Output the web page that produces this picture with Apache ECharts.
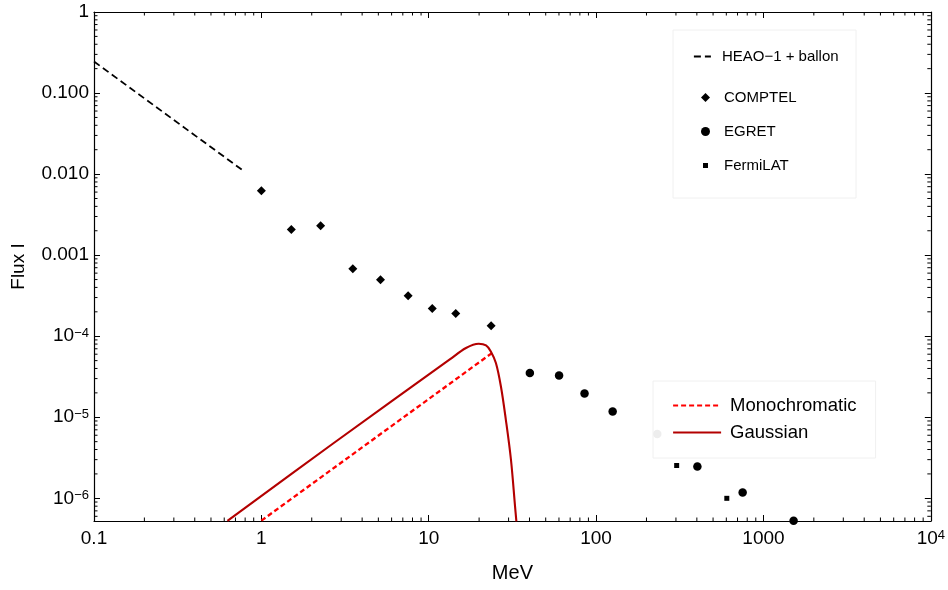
<!DOCTYPE html>
<html><head><meta charset="utf-8">
<script src="https://cdn.jsdelivr.net/npm/echarts@6/dist/echarts.min.js"></script>
<style>html,body{margin:0;padding:0;background:#fff}#c{width:948px;height:590px}</style>
</head><body><div id="c"></div>
<script>
// ---- axis ranges & tick labels ----
const X_MIN = 0.1, X_MAX = 10000, Y_MIN = 5.25e-7, Y_MAX = 1;
const xTickValues = [0.1, 1, 10, 100, 1000, 10000];
const xTickLabels = ['0.1', '1', '10', '100', '1000', '{b|10}{s|4}'];
const yTickValues = [1, 0.1, 0.01, 0.001, 1e-4, 1e-5, 1e-6];
const yTickLabels = ['1', '0.100', '0.010', '0.001', '{b|10}{s|\u22124}', '{b|10}{s|\u22125}', '{b|10}{s|\u22126}'];

// ---- data ----
const heaoX = [0.1, 0.794];
const heaoY = [0.245, 0.0107];

const comptelX = [1.0, 1.51, 2.26, 3.52, 5.15, 7.53, 10.5, 14.5, 23.6];
const comptelY = [6.25e-3, 2.07e-3, 2.31e-3, 6.8e-4, 4.99e-4, 3.16e-4, 2.19e-4, 1.90e-4, 1.35e-4];

const egretX = [40.2, 60.1, 85.3, 125.6, 232, 403, 751, 1514];
const egretY = [3.51e-5, 3.28e-5, 1.97e-5, 1.18e-5, 6.2e-6, 2.47e-6, 1.18e-6, 5.3e-7];

const fermiX = [303, 604];
const fermiY = [2.54e-6, 1.0e-6];

const monoX = [1.0, 24.6];
const monoY = [5.3e-7, 6.49e-5];

const gaussX = [0.627, 2.67, 13.3, 16.7, 19.9, 22.0, 23.5, 25.2, 27.0, 28.9, 31.0, 32.8, 33.4];
const gaussY = [5.27e-7, 4.71e-6, 5.13e-5, 7.15e-5, 8.07e-5, 7.69e-5, 6.49e-5, 4.67e-5, 2.40e-5, 9.3e-6, 2.99e-6, 7.9e-7, 5.2e-7];

const HEAO = 'HEAO\u22121 + ballon';

// ---- helpers ----
const zip = (xs, ys) => xs.map((x, i) => [x, ys[i]]);
function labelFor(values, labels) {
  return function (v) {
    const e = Math.log10(v);
    for (let i = 0; i < values.length; i++) {
      if (Math.abs(e - Math.log10(values[i])) < 1e-6) return labels[i];
    }
    return '';
  };
}
// log minor tick positions (2..9 times each decade)
const xMinor = [], yMinor = [];
for (let d = -1; d < 4; d++) for (let m = 2; m <= 9; m++) xMinor.push(m * Math.pow(10, d));
for (let d = -7; d < 0; d++) for (let m = 2; m <= 9; m++) {
  const v = m * Math.pow(10, d);
  if (v > Y_MIN && v < Y_MAX) yMinor.push(v);
}
const MINOR = 3.5;

const FONT = 'Liberation Sans';
const rich = {
  b: { fontSize: 19, lineHeight: 19, color: '#000', fontFamily: FONT, verticalAlign: 'bottom' },
  s: { fontSize: 13, lineHeight: 13, color: '#000', fontFamily: FONT, verticalAlign: 'top', padding: [0, 0, 9, 0] }
};
const axisCommon = {
  type: 'log', logBase: 10,
  axisLine: { show: true, lineStyle: { color: '#000', width: 1.2 } },
  axisTick: { show: true, inside: true, length: 6, lineStyle: { color: '#000', width: 1 } },
  minorTick: { show: false },
  splitLine: { show: false }
};
const legendText = { fontSize: 15, color: '#000', fontFamily: FONT };

const chart = echarts.init(document.getElementById('c'), null, { renderer: 'canvas' });
chart.setOption({
  animation: false,
  backgroundColor: '#fff',
  textStyle: { fontFamily: FONT },
  grid: { left: 94, right: 15, top: 12, bottom: 69, containLabel: false },
  xAxis: [
    Object.assign({}, axisCommon, {
      min: X_MIN, max: X_MAX, position: 'bottom',
      name: 'MeV', nameLocation: 'middle', nameGap: 42,
      nameTextStyle: { fontSize: 20, color: '#000', fontFamily: FONT },
      axisLabel: { show: true, margin: 8, fontSize: 19, color: '#000', fontFamily: FONT,
        formatter: labelFor(xTickValues, xTickLabels), rich: rich }
    }),
    Object.assign({}, axisCommon, {
      min: X_MIN, max: X_MAX, position: 'top', axisLabel: { show: false }
    })
  ],
  yAxis: [
    Object.assign({}, axisCommon, {
      min: Y_MIN, max: Y_MAX, position: 'left',
      name: 'Flux I', nameLocation: 'middle', nameGap: 66,
      nameTextStyle: { fontSize: 19, color: '#000', fontFamily: FONT },
      axisLabel: { show: true, margin: 5, fontSize: 19, color: '#000', fontFamily: FONT,
        formatter: labelFor(yTickValues, yTickLabels), rich: rich }
    }),
    Object.assign({}, axisCommon, {
      min: Y_MIN, max: Y_MAX, position: 'right', axisLabel: { show: false }
    })
  ],
  graphic: [{
    type: 'rect', z: 0, silent: true,
    shape: { x: 673, y: 30, width: 183, height: 168 },
    style: { fill: '#fff', stroke: '#f0f0f0', lineWidth: 1 }
  }],
  legend: [
    { data: [HEAO], left: 693, top: 49, padding: 0, itemWidth: 17, itemHeight: 14,
      itemStyle: { opacity: 0 }, lineStyle: { width: 1.8 },
      textStyle: Object.assign({ padding: [0, 0, 0, 6] }, legendText) },
    { data: ['COMPTEL'], left: 701, top: 90, padding: 0, itemWidth: 9, itemHeight: 9,
      textStyle: Object.assign({ padding: [0, 0, 0, 9] }, legendText) },
    { data: ['EGRET'], left: 701, top: 124, padding: 0, itemWidth: 9, itemHeight: 9,
      textStyle: Object.assign({ padding: [0, 0, 0, 9] }, legendText) },
    { data: ['FermiLAT'], left: 703, top: 158, padding: 0, itemWidth: 5, itemHeight: 5,
      textStyle: Object.assign({ padding: [0, 0, 0, 11] }, legendText) },
    { data: ['Monochromatic', 'Gaussian'], orient: 'vertical', left: 653, top: 381,
      padding: [15, 19, 16, 19], itemWidth: 48, itemHeight: 14, itemGap: 8,
      itemStyle: { opacity: 0 }, lineStyle: { width: 2.2 },
      backgroundColor: 'rgba(255,255,255,0.93)', borderColor: '#f0f0f0', borderWidth: 1,
      textStyle: { fontSize: 18.5, color: '#000', fontFamily: FONT, padding: [0, 0, 0, 4] } }
  ],
  series: [
    { name: HEAO, type: 'line', data: zip(heaoX, heaoY), symbol: 'none', clip: true,
      lineStyle: { color: '#000', width: 1.8, type: [7, 4] }, itemStyle: { color: '#000' } },
    { name: 'Monochromatic', type: 'line', data: zip(monoX, monoY), symbol: 'none', clip: true,
      lineStyle: { color: '#ff0000', width: 2.3, type: [5, 3] }, itemStyle: { color: '#ff0000' } },
    { name: 'Gaussian', type: 'line', data: zip(gaussX, gaussY), symbol: 'none', clip: true, smooth: 0.35,
      lineStyle: { color: '#b30000', width: 2.1 }, itemStyle: { color: '#b30000' } },
    { name: 'COMPTEL', type: 'scatter', data: zip(comptelX, comptelY), symbol: 'diamond', symbolSize: 9,
      itemStyle: { color: '#000', opacity: 1 } },
    { name: 'EGRET', type: 'scatter', data: zip(egretX, egretY), symbol: 'circle', symbolSize: 8.5,
      itemStyle: { color: '#000', opacity: 1 } },
    { name: 'FermiLAT', type: 'scatter', data: zip(fermiX, fermiY), symbol: 'rect', symbolSize: 5,
      itemStyle: { color: '#000', opacity: 1 } },
    { name: '_xminor', type: 'custom', silent: true, z: 5, clip: false,
      data: xMinor.map(v => [v, Y_MIN]),
      renderItem: function (params, api) {
        const v = api.value(0);
        const pb = api.coord([v, Y_MIN]), pt = api.coord([v, Y_MAX]);
        return { type: 'group', children: [
          { type: 'line', shape: { x1: pb[0], y1: pb[1], x2: pb[0], y2: pb[1] - MINOR }, style: { stroke: '#000', lineWidth: 1 } },
          { type: 'line', shape: { x1: pt[0], y1: pt[1], x2: pt[0], y2: pt[1] + MINOR }, style: { stroke: '#000', lineWidth: 1 } }
        ] };
      } },
    { name: '_yminor', type: 'custom', silent: true, z: 5, clip: false,
      data: yMinor.map(v => [X_MIN, v]),
      renderItem: function (params, api) {
        const v = api.value(1);
        const pl = api.coord([X_MIN, v]), pr = api.coord([X_MAX, v]);
        return { type: 'group', children: [
          { type: 'line', shape: { x1: pl[0], y1: pl[1], x2: pl[0] + MINOR, y2: pl[1] }, style: { stroke: '#000', lineWidth: 1 } },
          { type: 'line', shape: { x1: pr[0], y1: pr[1], x2: pr[0] - MINOR, y2: pr[1] }, style: { stroke: '#000', lineWidth: 1 } }
        ] };
      } }
  ]
});
</script></body></html>
